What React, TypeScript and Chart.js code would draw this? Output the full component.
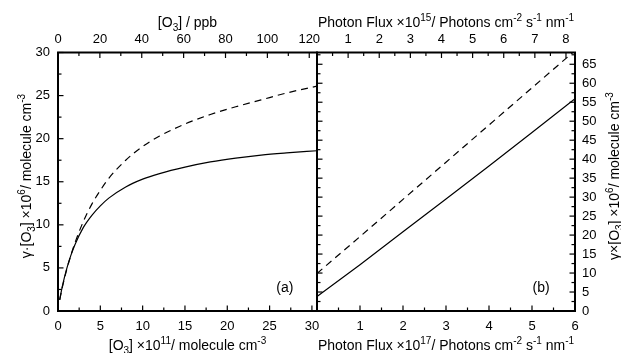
import React, { useEffect, useRef } from 'react';
import { Chart, registerables } from 'chart.js';

Chart.register(...registerables);

const W = 621;
const H = 353;
const FONT = '"Liberation Sans", Arial, sans-serif';

// ---------- Panel (a) data ----------
const ozoneConc = [0.2, 0.5, 1, 1.5, 2, 3, 4, 5, 6, 8, 10, 12, 15, 18, 21, 24, 27, 30.6];
const gammaSolidA = [1.3, 2.8, 4.8, 6.4, 7.7, 9.7, 11.1, 12.2, 13.1, 14.4, 15.3, 15.95, 16.7, 17.3, 17.75, 18.1, 18.35, 18.6];
const gammaDashedA = [1.3, 2.7, 4.7, 6.4, 7.9, 10.4, 12.4, 14.0, 15.4, 17.5, 19.1, 20.3, 21.7, 22.8, 23.7, 24.5, 25.3, 26.1];

// ---------- Panel (b) data ----------
const photonFlux = [0, 1, 2, 3, 4, 5, 6];
const gammaSolidB = [3.8, 12.2, 20.9, 29.5, 38.2, 47.0, 55.9];
const gammaDashedB = [9.9, 19.6, 29.4, 39.2, 49.0, 58.8, 68.6];

// ---------- Axis ranges ----------
const ozoneRange = [0, 30.6];
const ppbRange = [0, 123.7];
const gammaRangeA = [0, 30];
const fluxRange = [0, 6];
const flux15Range = [0, 8.29];
const gammaRangeB = [0, 68.1];

type Part = { t: string; k?: 'sub' | 'sup' };

const titleTopA: Part[] = [{ t: '[O' }, { t: '3', k: 'sub' }, { t: '] / ppb' }];
const titleBottomA: Part[] = [{ t: '[O' }, { t: '3', k: 'sub' }, { t: '] \u00d710' }, { t: '11', k: 'sup' }, { t: '/ molecule cm' }, { t: '-3', k: 'sup' }];
const titleYA: Part[] = [{ t: '\u03b3\u00b7[O' }, { t: '3', k: 'sub' }, { t: '] \u00d710' }, { t: '6', k: 'sup' }, { t: '/ molecule cm' }, { t: '-3', k: 'sup' }];
const titleTopB: Part[] = [{ t: 'Photon Flux \u00d710' }, { t: '15', k: 'sup' }, { t: '/ Photons cm' }, { t: '-2', k: 'sup' }, { t: ' s' }, { t: '-1', k: 'sup' }, { t: ' nm' }, { t: '-1', k: 'sup' }];
const titleBottomB: Part[] = [{ t: 'Photon Flux \u00d710' }, { t: '17', k: 'sup' }, { t: '/ Photons cm' }, { t: '-2', k: 'sup' }, { t: ' s' }, { t: '-1', k: 'sup' }, { t: ' nm' }, { t: '-1', k: 'sup' }];
const titleYB: Part[] = [{ t: '\u03b3\u00d7[O' }, { t: '3', k: 'sub' }, { t: '] \u00d710' }, { t: '6', k: 'sup' }, { t: '/ molecule cm' }, { t: '-3', k: 'sup' }];

function drawRich(ctx: CanvasRenderingContext2D, parts: Part[], x: number, y: number, size: number, rot = 0) {
  ctx.save();
  ctx.translate(x, y);
  ctx.rotate(rot);
  ctx.fillStyle = '#000';
  ctx.textAlign = 'left';
  ctx.textBaseline = 'alphabetic';
  const fontFor = (p: Part) => `${p.k ? Math.round(size * 0.7) : size}px ${FONT}`;
  const widths = parts.map((p) => {
    ctx.font = fontFor(p);
    return ctx.measureText(p.t).width;
  });
  const total = widths.reduce((a, b) => a + b, 0);
  let cx = -total / 2;
  parts.forEach((p, i) => {
    ctx.font = fontFor(p);
    const dy = p.k === 'sub' ? size * 0.3 : p.k === 'sup' ? -size * 0.42 : 0;
    ctx.fillText(p.t, cx, dy);
    cx += widths[i];
  });
  ctx.restore();
}

type TickSpec = { scale: string; edge: 'left' | 'right' | 'top' | 'bottom'; minor: number; major: number };
type Label = { parts: Part[]; x: number; y: number; rot?: number };
type Tag = { text: string; x: number; y: number };

function makeFramePlugin(id: string, ticks: TickSpec[], labels: Label[], tag: Tag) {
  return {
    id,
    afterDraw(chart: any) {
      const ctx: CanvasRenderingContext2D = chart.ctx;
      const a = chart.chartArea;
      ctx.save();
      ctx.strokeStyle = '#000';
      ctx.lineWidth = 1.2;
      ticks.forEach((s) => {
        const sc = chart.scales[s.scale];
        const n = Math.floor((sc.max - sc.min) / s.minor + 1e-6);
        for (let i = 0; i <= n; i++) {
          const v = sc.min + i * s.minor;
          const isMajor = Math.abs(v / s.major - Math.round(v / s.major)) < 1e-6;
          const len = isMajor ? 5.5 : 3.5;
          const p = sc.getPixelForValue(v);
          ctx.beginPath();
          if (s.edge === 'bottom') { ctx.moveTo(p, a.bottom); ctx.lineTo(p, a.bottom - len); }
          if (s.edge === 'top') { ctx.moveTo(p, a.top); ctx.lineTo(p, a.top + len); }
          if (s.edge === 'left') { ctx.moveTo(a.left, p); ctx.lineTo(a.left + len, p); }
          if (s.edge === 'right') { ctx.moveTo(a.right, p); ctx.lineTo(a.right - len, p); }
          ctx.stroke();
        }
      });
      ctx.lineWidth = 2;
      ctx.strokeRect(a.left, a.top, a.right - a.left, a.bottom - a.top);
      const xs = chart.scales.x;
      const ys = chart.scales.y;
      ctx.fillStyle = '#000';
      ctx.font = `14px ${FONT}`;
      ctx.textAlign = 'center';
      ctx.textBaseline = 'middle';
      ctx.fillText(tag.text, xs.getPixelForValue(tag.x), ys.getPixelForValue(tag.y));
      ctx.restore();
      labels.forEach((l) => drawRich(ctx, l.parts, l.x, l.y, 14, l.rot || 0));
    },
  };
}

const tickFont = { family: FONT, size: 13 };

function baseAxis(min: number, max: number, step: number, position: string, hideZero = false) {
  return {
    type: 'linear',
    position,
    min,
    max,
    grid: { display: false, drawTicks: false },
    border: { display: false },
    ticks: {
      stepSize: step,
      includeBounds: false,
      color: '#000',
      font: tickFont,
      autoSkip: false,
      maxRotation: 0,
      callback: (v: any) => (hideZero && v === 0 ? '' : String(v)),
    },
  } as any;
}

export default function App() {
  const ref1 = useRef<HTMLCanvasElement>(null);
  const ref2 = useRef<HTMLCanvasElement>(null);

  useEffect(() => {
    Chart.defaults.font.family = FONT;

    // ---- Panel (a) ----
    const xA = baseAxis(ozoneRange[0], ozoneRange[1], 5, 'bottom');
    xA.ticks.padding = 8;
    xA.afterFit = (s: any) => { s.height = 42; };
    const x2A = baseAxis(ppbRange[0], ppbRange[1], 20, 'top');
    x2A.ticks.padding = 5;
    x2A.afterFit = (s: any) => { s.height = 52.5; };
    const yA = baseAxis(gammaRangeA[0], gammaRangeA[1], 5, 'left');
    yA.ticks.padding = 8;
    yA.afterFit = (s: any) => { s.width = 58; };

    const c1 = new Chart(ref1.current!, {
      type: 'line',
      data: {
        datasets: [
          {
            data: ozoneConc.map((x, i) => ({ x, y: gammaSolidA[i] })),
            borderColor: '#000',
            borderWidth: 1.2,
            pointRadius: 0,
            cubicInterpolationMode: 'monotone',
            xAxisID: 'x',
            yAxisID: 'y',
          },
          {
            data: ozoneConc.map((x, i) => ({ x, y: gammaDashedA[i] })),
            borderColor: '#000',
            borderWidth: 1.2,
            borderDash: [7, 5],
            pointRadius: 0,
            cubicInterpolationMode: 'monotone',
            xAxisID: 'x',
            yAxisID: 'y',
          },
        ],
      },
      options: {
        responsive: false,
        animation: false,
        devicePixelRatio: 1,
        layout: { padding: { left: 0, right: W - 317, top: 0, bottom: 0 } },
        plugins: { legend: { display: false }, tooltip: { enabled: false } },
        scales: { x: xA, x2: x2A, y: yA },
      } as any,
      plugins: [
        makeFramePlugin(
          'frameA',
          [
            { scale: 'x', edge: 'bottom', minor: 2.5, major: 5 },
            { scale: 'x2', edge: 'top', minor: 10, major: 20 },
            { scale: 'y', edge: 'left', minor: 2.5, major: 5 },
          ],
          [
            { parts: titleTopA, x: 187.5, y: 27 },
            { parts: titleBottomA, x: 187.5, y: 350 },
            { parts: titleYA, x: 31, y: 176, rot: -Math.PI / 2 },
          ],
          { text: '(a)', x: 26.8, y: 2.7 }
        ) as any,
      ],
    });

    // ---- Panel (b) ----
    const xB = baseAxis(fluxRange[0], fluxRange[1], 1, 'bottom', true);
    xB.ticks.padding = 8;
    xB.afterFit = (s: any) => { s.height = 42; };
    const x2B = baseAxis(flux15Range[0], flux15Range[1], 1, 'top', true);
    x2B.ticks.padding = 5;
    x2B.afterFit = (s: any) => { s.height = 52.5; };
    const yB = baseAxis(gammaRangeB[0], gammaRangeB[1], 5, 'right');
    yB.ticks.padding = 7;
    yB.afterFit = (s: any) => { s.width = W - 575; };

    const c2 = new Chart(ref2.current!, {
      type: 'line',
      data: {
        datasets: [
          {
            data: photonFlux.map((x, i) => ({ x, y: gammaSolidB[i] })),
            borderColor: '#000',
            borderWidth: 1.2,
            pointRadius: 0,
            xAxisID: 'x',
            yAxisID: 'y',
          },
          {
            data: photonFlux.map((x, i) => ({ x, y: gammaDashedB[i] })),
            borderColor: '#000',
            borderWidth: 1.2,
            borderDash: [7, 5],
            pointRadius: 0,
            xAxisID: 'x',
            yAxisID: 'y',
          },
        ],
      },
      options: {
        responsive: false,
        animation: false,
        devicePixelRatio: 1,
        layout: { padding: { left: 317, right: 0, top: 0, bottom: 0 } },
        plugins: { legend: { display: false }, tooltip: { enabled: false } },
        scales: { x: xB, x2: x2B, y: yB },
      } as any,
      plugins: [
        makeFramePlugin(
          'frameB',
          [
            { scale: 'x', edge: 'bottom', minor: 0.5, major: 1 },
            { scale: 'x2', edge: 'top', minor: 0.5, major: 1 },
            { scale: 'y', edge: 'right', minor: 2.5, major: 5 },
            { scale: 'y', edge: 'left', minor: 2.5, major: 5 },
          ],
          [
            { parts: titleTopB, x: 446, y: 27 },
            { parts: titleBottomB, x: 446, y: 350 },
            { parts: titleYB, x: 619, y: 176, rot: -Math.PI / 2 },
          ],
          { text: '(b)', x: 5.21, y: 6.1 }
        ) as any,
      ],
    });

    return () => {
      c1.destroy();
      c2.destroy();
    };
  }, []);

  return (
    <div style={{ position: 'absolute', left: 0, top: 0, width: W, height: H, background: '#fff' }}>
      <canvas ref={ref1} width={W} height={H} style={{ position: 'absolute', left: 0, top: 0 }} />
      <canvas ref={ref2} width={W} height={H} style={{ position: 'absolute', left: 0, top: 0 }} />
    </div>
  );
}
